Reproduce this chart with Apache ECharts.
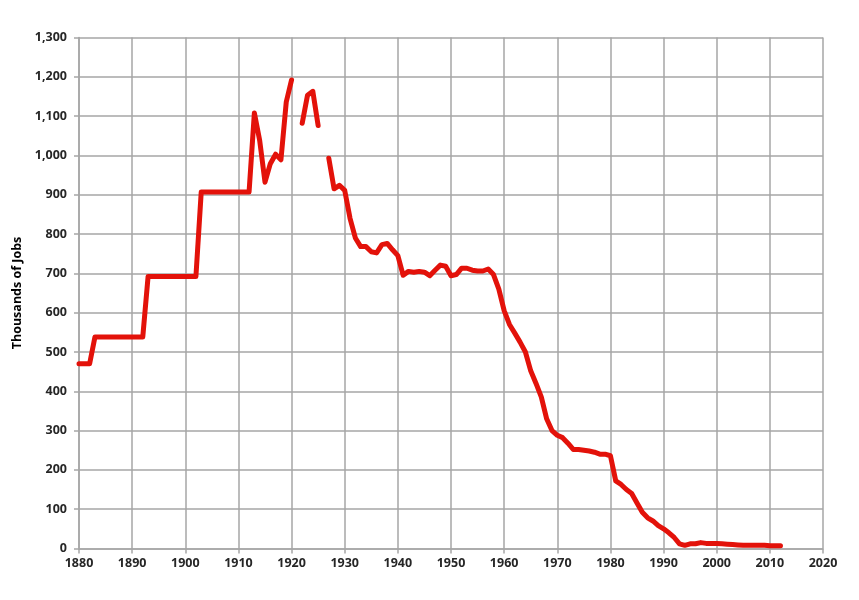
<!DOCTYPE html>
<html>
<head>
<meta charset="utf-8">
<script src="https://cdn.jsdelivr.net/npm/echarts@6/dist/echarts.min.js"></script>
<style>
  html, body { margin: 0; padding: 0; background: #fff; }
  #chart { width: 859px; height: 600px; }
</style>
</head>
<body>
<div id="chart"></div>
<script>
// one value per year, null where the source has no figure
var startYear = 1880;
var jobs = [
  470, 470, 470, 538, 538, 538, 538, 538, 538, 538,   // 1880s
  538, 538, 538, 692, 692, 692, 692, 692, 692, 692,   // 1890s
  692, 692, 692, 907, 907, 907, 907, 907, 907, 907,   // 1900s
  907, 907, 907, 1108, 1038, 932, 979, 1003, 989, 1136, // 1910s
  1192, null, 1082, 1153, 1163, 1076, null, 993, 915, 924, // 1920s
  911, 840, 790, 768, 768, 755, 752, 773, 776, 760,   // 1930s
  745, 695, 705, 703, 705, 703, 694, 708, 721, 718,   // 1940s
  694, 697, 713, 713, 708, 706, 706, 711, 697, 660,   // 1950s
  605, 570, 548, 525, 500, 452, 420, 385, 330, 300,   // 1960s
  288, 282, 268, 252, 252, 250, 248, 245, 240, 240,   // 1970s
  236, 172, 163, 150, 140, 116, 92, 78, 70, 58,       // 1980s
  50, 40, 28, 12, 8, 12, 12, 15, 13, 13,              // 1990s
  13, 12, 11, 10, 9, 8, 8, 8, 8, 8,                   // 2000s
  7, 7, 7                                             // 2010-2012
];
var xTicks = [1880, 2020, 10];
var yTicks = [0, 1300, 100];
var yTitle = 'Thousands of Jobs';

var points = jobs.map(function (v, i) { return [startYear + i, v]; });

var chart = echarts.init(document.getElementById('chart'));
var gridColor = '#a6a6a6';
var labelFont = { color: '#262626', fontSize: 12.5, fontWeight: 'bold', fontFamily: 'Open Sans' };

chart.setOption({
  animation: false,
  grid: { left: 79, right: 36, top: 37.5, bottom: 51.5, containLabel: false },
  xAxis: {
    type: 'value',
    min: xTicks[0], max: xTicks[1], interval: xTicks[2],
    axisLine: { lineStyle: { color: gridColor, width: 1.5 } },
    axisTick: { show: true, length: 5, lineStyle: { color: gridColor, width: 1.5 } },
    splitLine: { show: true, lineStyle: { color: gridColor, width: 1.5 } },
    axisLabel: Object.assign({ margin: 8, formatter: function (v) { return String(v); } }, labelFont)
  },
  yAxis: {
    type: 'value',
    min: yTicks[0], max: yTicks[1], interval: yTicks[2],
    name: yTitle,
    nameLocation: 'middle',
    nameGap: 52,
    nameRotate: 90,
    nameTextStyle: { color: '#000', fontSize: 12.5, fontWeight: 'bold', fontFamily: 'Open Sans' },
    axisLine: { show: true, lineStyle: { color: gridColor, width: 1.5 } },
    axisTick: { show: true, length: 5, lineStyle: { color: gridColor, width: 1.5 } },
    splitLine: { show: true, lineStyle: { color: gridColor, width: 1.5 } },
    axisLabel: Object.assign({
      margin: 12,
      formatter: function (v) { return v.toLocaleString('en-US'); }
    }, labelFont)
  },
  series: [{
    type: 'line',
    data: points,
    showSymbol: false,
    connectNulls: false,
    lineStyle: { color: '#e3120a', width: 5, join: 'round', cap: 'round' },
    itemStyle: { color: '#e3120a' }
  }]
});
</script>
</body>
</html>
